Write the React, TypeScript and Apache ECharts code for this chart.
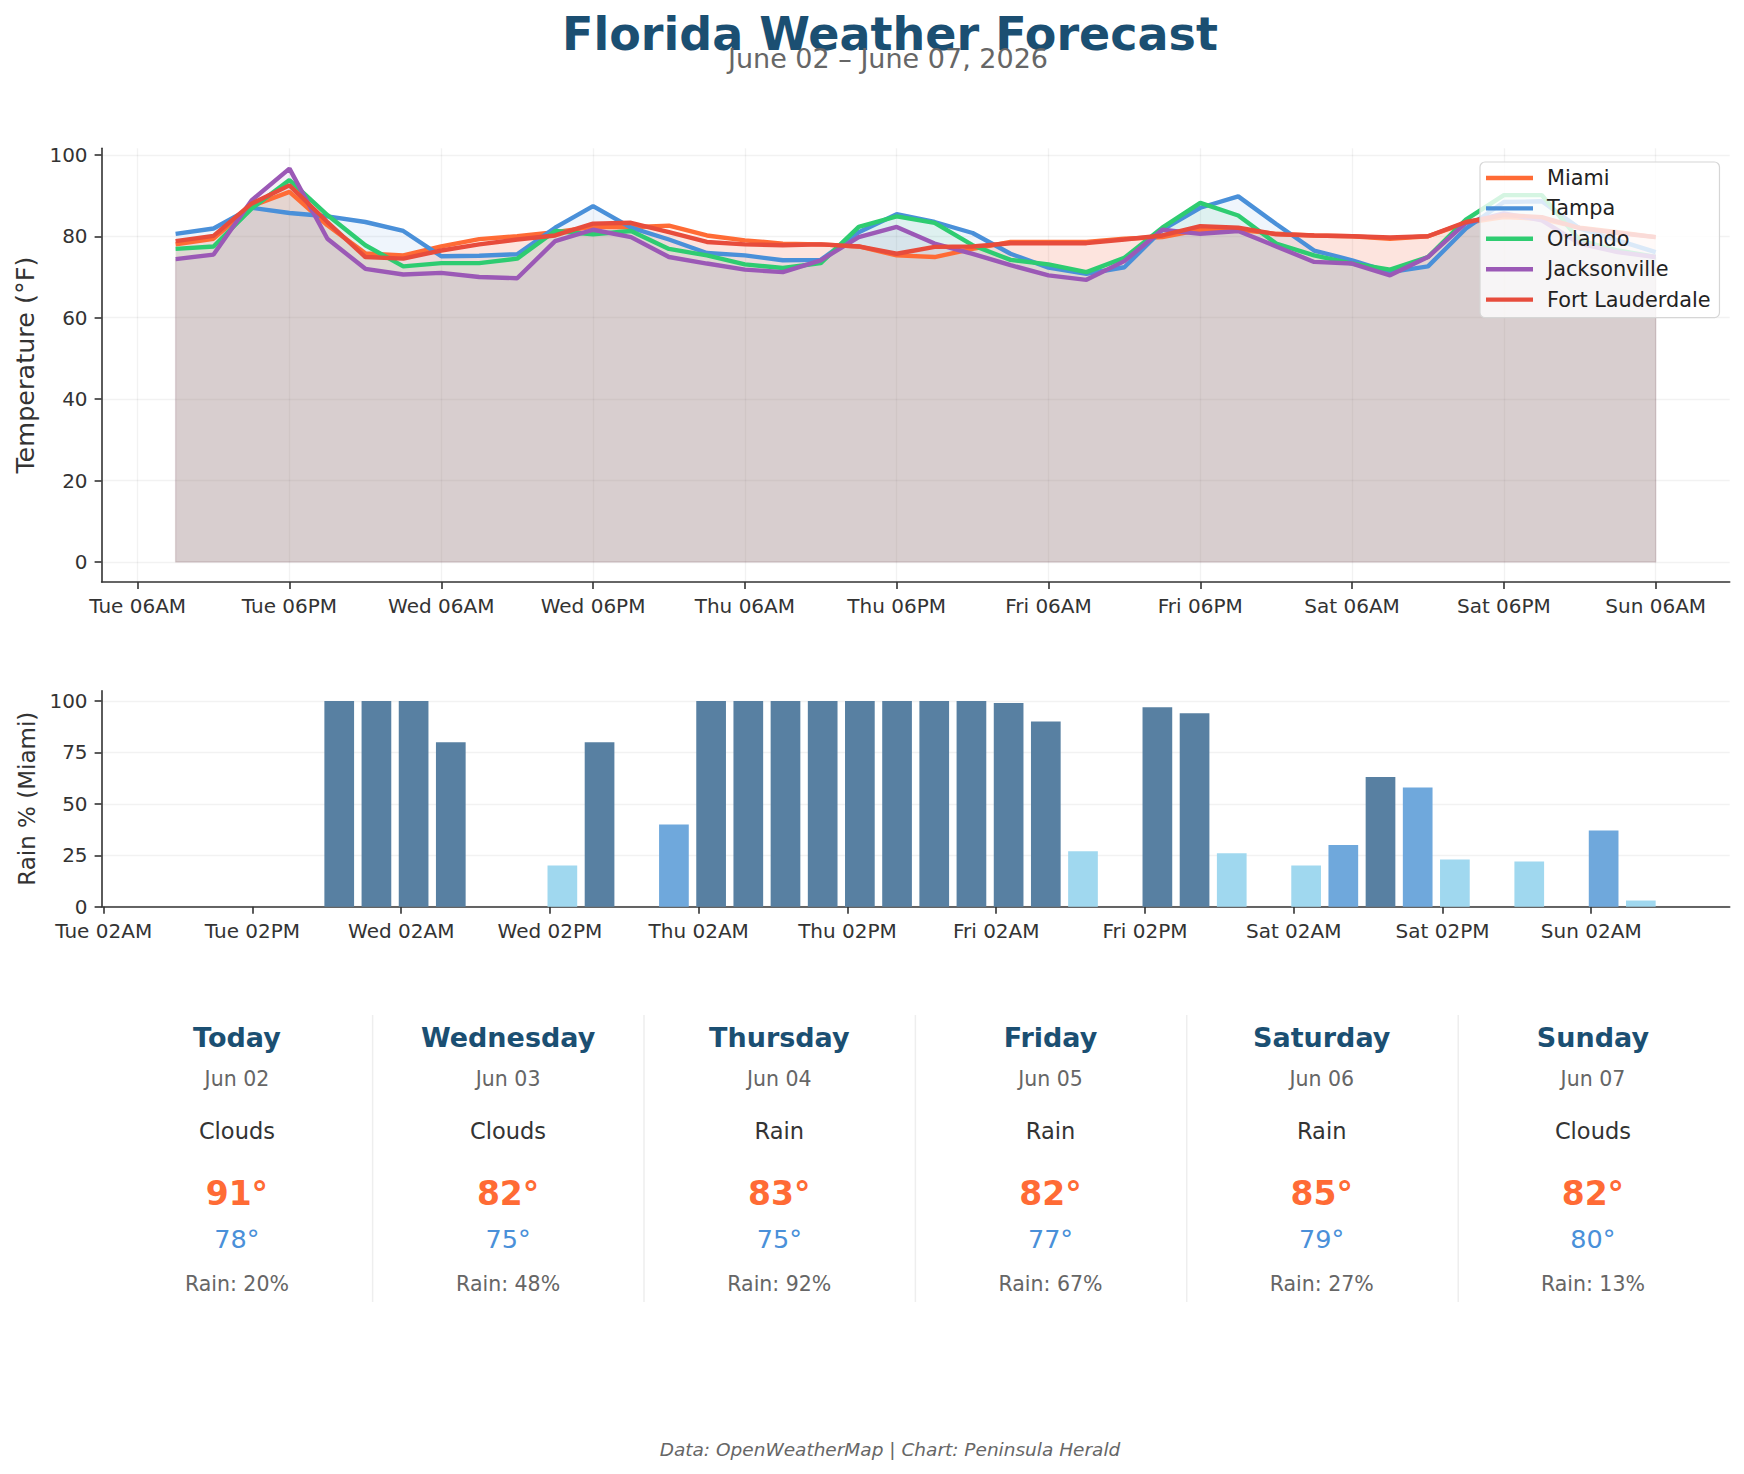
import { useEffect, useRef } from "react";
import * as echarts from "echarts";

const FONT = "DejaVu Sans";

const cities = ["Miami", "Tampa", "Orlando", "Jacksonville", "Fort Lauderdale"];
const cityColors = ["#FF6B35", "#4A90D9", "#2ECC71", "#9B59B6", "#E74C3C"];

// Forecast steps, in hours counted from Tuesday 00:00
const forecastHours = [
  9, 12, 15, 18, 21, 24, 27, 30, 33, 36, 39, 42, 45, 48, 51, 54, 57, 60, 63, 66,
  69, 72, 75, 78, 81, 84, 87, 90, 93, 96, 99, 102, 105, 108, 111, 114, 117, 120, 123, 126,
];

// Temperatures (°F)
const miamiTemps = [
  78.0, 79.4, 87.4, 90.9, 82.7, 75.8, 75.3, 77.5, 79.3, 80.0, 81.0, 82.3, 82.2, 82.6, 80.2, 79.0, 78.2, 78.0, 77.5, 75.3,
  74.9, 76.9, 78.6, 78.6, 78.6, 79.4, 79.8, 81.6, 81.6, 80.6, 80.2, 80.0, 79.4, 80.0, 83.3, 84.7, 84.3, 82.1, 81.0, 79.8,
];
const tampaTemps = [
  80.6, 81.9, 87.0, 85.7, 84.9, 83.5, 81.3, 75.1, 75.2, 75.6, 82.1, 87.4, 82.1, 79.2, 75.9, 75.3, 74.1, 74.2, 81.0, 85.4,
  83.5, 80.8, 75.7, 72.3, 70.8, 72.4, 81.6, 87.0, 89.8, 83.0, 76.5, 74.1, 71.2, 72.6, 81.9, 88.4, 88.6, 81.9, 79.0, 76.1,
];
const orlandoTemps = [
  76.9, 77.5, 86.8, 93.8, 85.2, 77.8, 72.6, 73.4, 73.4, 74.5, 81.3, 80.5, 81.3, 76.9, 75.3, 73.1, 72.2, 73.4, 82.3, 84.9,
  83.3, 77.8, 74.2, 73.1, 71.2, 74.7, 82.1, 88.2, 85.1, 78.2, 75.3, 73.3, 71.8, 74.9, 84.1, 90.1, 90.1, 79.0, 76.5, 74.9,
];
const jacksonvilleTemps = [
  74.4, 75.5, 88.8, 96.6, 79.4, 72.0, 70.6, 71.0, 70.0, 69.7, 78.8, 81.6, 79.8, 74.9, 73.3, 71.8, 71.2, 74.1, 79.8, 82.3,
  78.2, 75.7, 72.9, 70.4, 69.3, 73.9, 81.6, 80.6, 81.3, 77.5, 73.7, 73.3, 70.4, 74.9, 83.3, 85.6, 83.9, 78.2, 76.1, 74.9,
];
const fortLauderdaleTemps = [
  78.8, 80.1, 88.0, 92.5, 83.5, 74.9, 74.5, 76.5, 78.0, 79.2, 80.2, 83.1, 83.3, 81.0, 78.6, 78.0, 77.8, 78.0, 77.5, 75.7,
  77.4, 77.5, 78.3, 78.3, 78.3, 79.2, 80.2, 82.5, 82.1, 80.5, 80.2, 80.0, 79.7, 80.0, 83.5, 85.2, 84.7, 82.0, 80.8, 79.8,
];
const cityTemps = [miamiTemps, tampaTemps, orlandoTemps, jacksonvilleTemps, fortLauderdaleTemps];

// Chance of rain in Miami (%)
const miamiRain = [
  0, 0, 0, 0, 100, 100, 100, 80, 0, 0, 20, 80, 0, 40, 100, 100, 100, 100, 100, 100,
  100, 100, 99, 90, 27, 0, 97, 94, 26, 0, 20, 30, 63, 58, 23, 0, 22, 0, 37, 3,
];

const tempTickHours = [6, 18, 30, 42, 54, 66, 78, 90, 102, 114, 126];
const tempTickLabels = [
  "Tue 06AM", "Tue 06PM", "Wed 06AM", "Wed 06PM", "Thu 06AM", "Thu 06PM",
  "Fri 06AM", "Fri 06PM", "Sat 06AM", "Sat 06PM", "Sun 06AM",
];
const rainTickHours = [2, 14, 26, 38, 50, 62, 74, 86, 98, 110, 122];
const rainTickLabels = [
  "Tue 02AM", "Tue 02PM", "Wed 02AM", "Wed 02PM", "Thu 02AM", "Thu 02PM",
  "Fri 02AM", "Fri 02PM", "Sat 02AM", "Sat 02PM", "Sun 02AM",
];
const tempYTicks = [0, 20, 40, 60, 80, 100];
const rainYTicks = [0, 25, 50, 75, 100];

// Daily summary cards
const cardDays = ["Today", "Wednesday", "Thursday", "Friday", "Saturday", "Sunday"];
const cardDates = ["Jun 02", "Jun 03", "Jun 04", "Jun 05", "Jun 06", "Jun 07"];
const cardConditions = ["Clouds", "Clouds", "Rain", "Rain", "Rain", "Clouds"];
const cardHighs = [91, 82, 83, 82, 85, 82];
const cardLows = [78, 75, 75, 77, 79, 80];
const cardRain = [20, 48, 92, 67, 27, 13];

const RAIN_HEAVY = "#5880A2";
const RAIN_MID = "#6FA8DC";
const RAIN_LIGHT = "#A0D8EF";

function rainColor(v: number): string {
  if (v > 60) return RAIN_HEAVY;
  if (v >= 30) return RAIN_MID;
  return RAIN_LIGHT;
}

const AXIS_COLOR = "#333333";
const GRID_COLOR = "rgba(0,0,0,0.05)";

function buildOption() {
  const lineSeries = cities.map((name, ci) => ({
    type: "line",
    name,
    xAxisIndex: 0,
    yAxisIndex: 0,
    data: forecastHours.map((h, i) => [h, cityTemps[ci][i]]),
    symbol: "none",
    color: cityColors[ci],
    lineStyle: { width: 4.4, color: cityColors[ci] },
    itemStyle: { color: cityColors[ci] },
    areaStyle: { color: cityColors[ci], opacity: 0.085, origin: 0 },
    z: 2,
  }));

  // faint outline along the base and ends of the shaded areas
  const first = forecastHours[0];
  const last = forecastHours[forecastHours.length - 1];
  const edgeSeries = {
    type: "line",
    name: "area-edge",
    xAxisIndex: 0,
    yAxisIndex: 0,
    silent: true,
    symbol: "none",
    z: 1,
    lineStyle: { width: 1.4, color: "rgba(140,100,110,0.22)" },
    data: [
      [first, Math.min(...cityTemps.map((t) => t[0]))],
      [first, 0],
      [last, 0],
      [last, Math.min(...cityTemps.map((t) => t[t.length - 1]))],
    ],
  };

  const barSeries = {
    type: "bar",
    name: "Rain",
    xAxisIndex: 1,
    yAxisIndex: 1,
    barWidth: 29.7,
    data: forecastHours.map((h, i) => ({
      value: [h, miamiRain[i]],
      itemStyle: { color: rainColor(miamiRain[i]) },
    })),
  };

  const colX = [236.9, 508.1, 779.3, 1050.5, 1321.7, 1592.9];
  const sepX = [372.6, 644, 915.4, 1186.7, 1458.2];

  const cardTexts: any[] = [];
  colX.forEach((x, i) => {
    const rows = [
      { t: cardDays[i], y: 1037.5, size: 27, weight: "bold", fill: "#1B4F72" },
      { t: cardDates[i], y: 1079, size: 20.5, weight: "normal", fill: "#666666" },
      { t: cardConditions[i], y: 1131, size: 22.5, weight: "normal", fill: "#333333" },
      { t: `${cardHighs[i]}°`, y: 1193, size: 33, weight: "bold", fill: "#FF6B35" },
      { t: `${cardLows[i]}°`, y: 1238.5, size: 25.5, weight: "normal", fill: "#4A90D9" },
      { t: `Rain: ${cardRain[i]}%`, y: 1283.5, size: 20.5, weight: "normal", fill: "#666666" },
    ];
    rows.forEach((r) =>
      cardTexts.push({
        type: "text",
        x,
        y: r.y,
        style: {
          text: r.t,
          fill: r.fill,
          fontSize: r.size,
          fontWeight: r.weight,
          fontFamily: FONT,
          align: "center",
          verticalAlign: "middle",
        },
      })
    );
  });

  const separators = sepX.map((x) => ({
    type: "line",
    shape: { x1: x, y1: 1015, x2: x, y2: 1302 },
    style: { stroke: "#eeeeee", lineWidth: 1.5 },
  }));

  return {
    animation: false,
    backgroundColor: "#ffffff",
    textStyle: { fontFamily: FONT },
    grid: [
      { left: 101.6, right: 14.3, top: 148.3, height: 433.7, containLabel: false, outerBoundsMode: "none" },
      { left: 101.6, right: 14.3, top: 690.7, height: 216, containLabel: false, outerBoundsMode: "none" },
    ],
    legend: {
      data: cities,
      left: 1480,
      top: 162,
      orient: "vertical",
      icon: "rect",
      itemWidth: 47,
      itemHeight: 4.4,
      itemGap: 8.4,
      padding: [5, 9, 7, 6],
      backgroundColor: "rgba(255,255,255,0.8)",
      borderColor: "#d6d6d6",
      borderWidth: 1.2,
      borderRadius: 5,
      selectedMode: false,
      textStyle: {
        fontSize: 20.8,
        color: "#222222",
        fontFamily: FONT,
        lineHeight: 22,
        padding: [0, 0, 0, 9],
      },
    },
    xAxis: [
      {
        type: "value",
        gridIndex: 0,
        min: 3.15,
        max: 131.85,
        axisLine: { show: true, onZero: false, lineStyle: { color: AXIS_COLOR, width: 1.6 } },
        axisTick: { show: true, customValues: tempTickHours, length: 7, lineStyle: { color: AXIS_COLOR, width: 1.6 } },
        axisLabel: {
          customValues: tempTickHours,
          formatter: (v: number) => tempTickLabels[tempTickHours.indexOf(v)] ?? "",
          fontSize: 20,
          color: AXIS_COLOR,
          fontFamily: FONT,
          margin: 14,
        },
        splitLine: { show: true, lineStyle: { color: GRID_COLOR, width: 1.4 } },
      },
      {
        type: "value",
        gridIndex: 1,
        min: 1.83,
        max: 133.17,
        axisLine: { show: true, onZero: false, lineStyle: { color: AXIS_COLOR, width: 1.6 } },
        axisTick: { show: true, customValues: rainTickHours, length: 7, lineStyle: { color: AXIS_COLOR, width: 1.6 } },
        axisLabel: {
          customValues: rainTickHours,
          formatter: (v: number) => rainTickLabels[rainTickHours.indexOf(v)] ?? "",
          fontSize: 20,
          color: AXIS_COLOR,
          fontFamily: FONT,
          margin: 14,
        },
        splitLine: { show: false },
      },
    ],
    yAxis: [
      {
        type: "value",
        gridIndex: 0,
        min: -4.9,
        max: 101.6,
        name: "Temperature (°F)",
        nameLocation: "middle",
        nameGap: 64,
        nameTextStyle: { fontSize: 25.5, color: AXIS_COLOR, fontFamily: FONT },
        axisLine: { show: true, onZero: false, lineStyle: { color: AXIS_COLOR, width: 1.6 } },
        axisTick: { show: true, customValues: tempYTicks, length: 7, lineStyle: { color: AXIS_COLOR, width: 1.6 } },
        axisLabel: { customValues: tempYTicks, fontSize: 20, color: AXIS_COLOR, fontFamily: FONT, margin: 14 },
        splitLine: { show: true, lineStyle: { color: GRID_COLOR, width: 1.4 } },
      },
      {
        type: "value",
        gridIndex: 1,
        min: 0,
        max: 105,
        name: "Rain % (Miami)",
        nameLocation: "middle",
        nameGap: 62,
        nameTextStyle: { fontSize: 23, color: AXIS_COLOR, fontFamily: FONT },
        axisLine: { show: true, onZero: false, lineStyle: { color: AXIS_COLOR, width: 1.6 } },
        axisTick: { show: true, customValues: rainYTicks, length: 7, lineStyle: { color: AXIS_COLOR, width: 1.6 } },
        axisLabel: { customValues: rainYTicks, fontSize: 20, color: AXIS_COLOR, fontFamily: FONT, margin: 14 },
        splitLine: { show: true, lineStyle: { color: GRID_COLOR, width: 1.4 } },
      },
    ],
    series: [edgeSeries, ...lineSeries, barSeries],
    graphic: [
      {
        type: "text",
        x: 890,
        y: 34,
        style: {
          text: "Florida Weather Forecast",
          fill: "#1B4F72",
          fontSize: 46,
          fontWeight: "bold",
          fontFamily: FONT,
          align: "center",
          verticalAlign: "middle",
        },
      },
      {
        type: "text",
        x: 888,
        y: 58,
        style: {
          text: "June 02 – June 07, 2026",
          fill: "#666666",
          fontSize: 27,
          fontFamily: FONT,
          align: "center",
          verticalAlign: "middle",
        },
      },
      ...separators,
      ...cardTexts,
      {
        type: "text",
        x: 890,
        y: 1449,
        style: {
          text: "Data: OpenWeatherMap | Chart: Peninsula Herald",
          fill: "#666666",
          fontSize: 18.5,
          fontStyle: "italic",
          fontFamily: FONT,
          align: "center",
          verticalAlign: "middle",
        },
      },
    ],
  };
}

export default function App() {
  const ref = useRef<HTMLDivElement>(null);

  useEffect(() => {
    if (!ref.current) return;
    const chart = echarts.init(ref.current, undefined, { renderer: "svg" });
    chart.setOption(buildOption() as any);
    return () => chart.dispose();
  }, []);

  return (
    <div
      ref={ref}
      style={{ position: "absolute", left: 0, top: 0, width: 1744, height: 1474, background: "#ffffff" }}
    />
  );
}
